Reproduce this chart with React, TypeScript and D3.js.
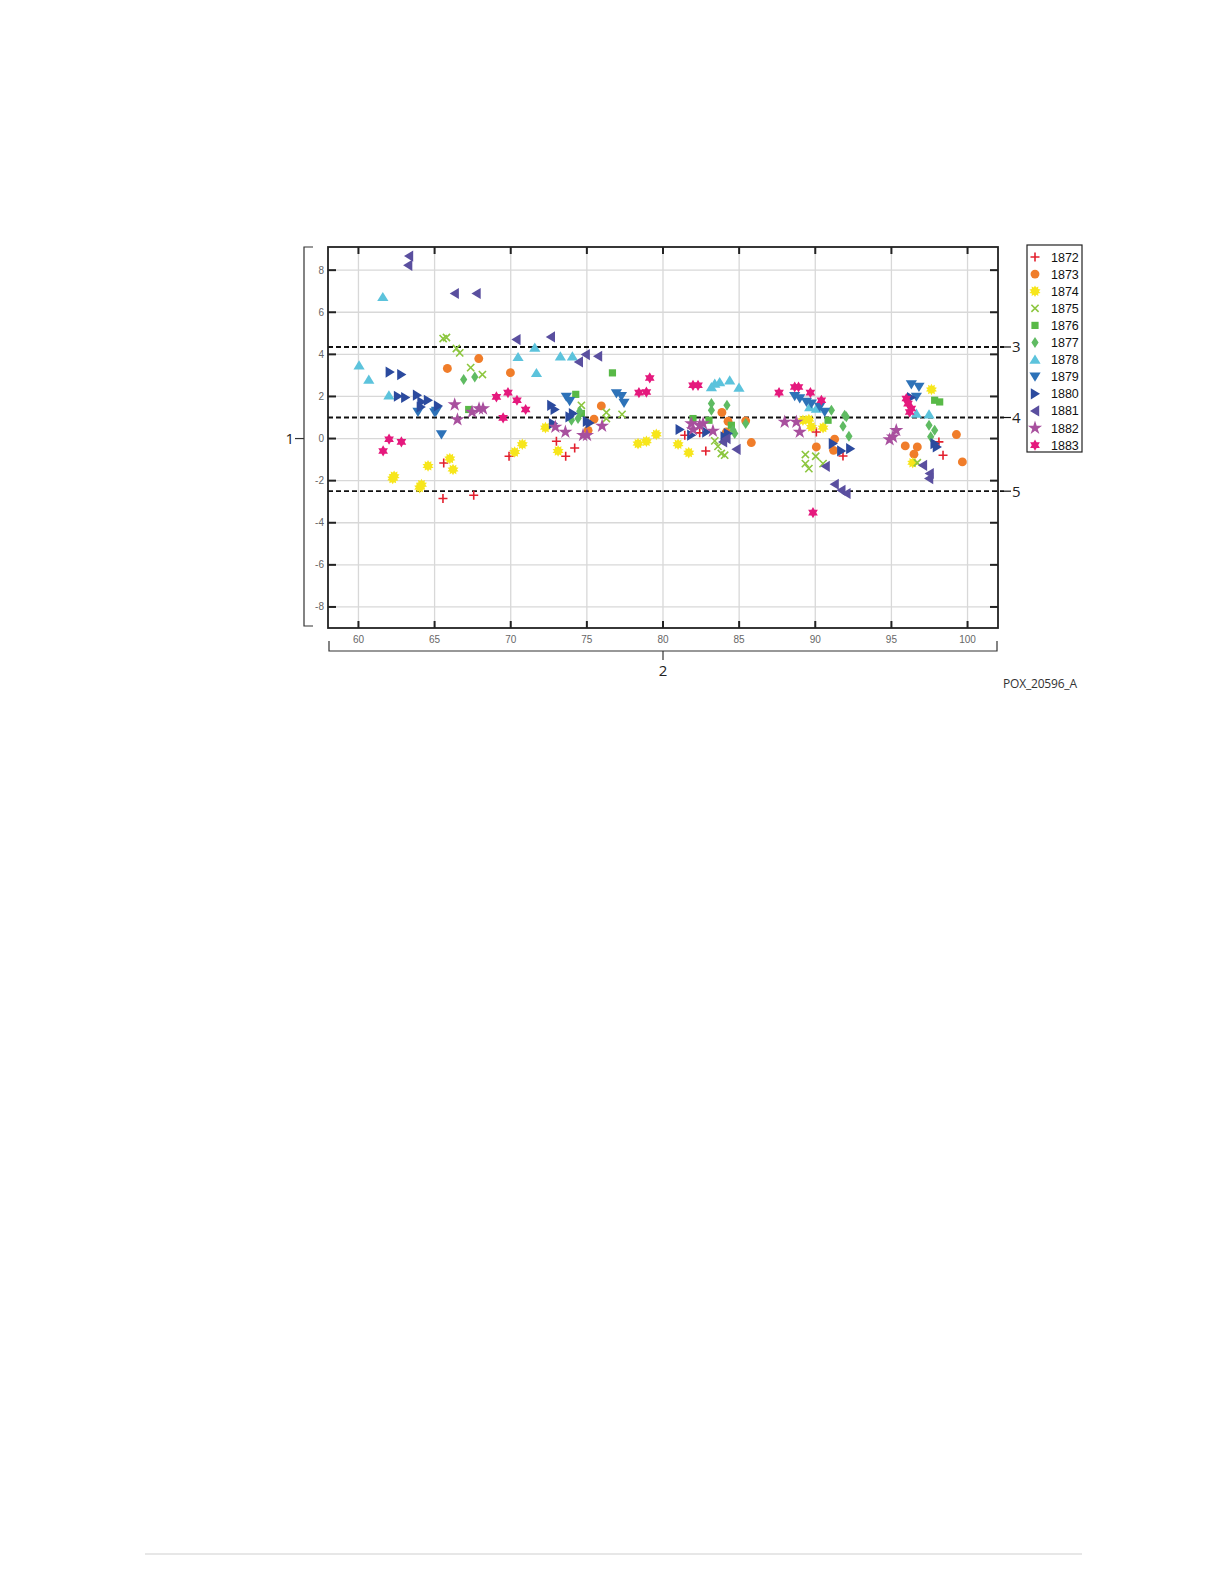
import React, { useEffect, useRef } from 'react';
import * as d3 from 'd3';

// [x, y] values, one list per year
const s1872 = [[65.55,-2.85],[67.57,-2.69],[65.6,-1.16],[69.89,-0.84],[73.0,-0.13],[73.61,-0.84],[74.2,-0.45],[81.43,0.16],[82.41,0.27],[82.81,-0.59],[90.07,0.31],[91.82,-0.83],[98.12,-0.16],[98.39,-0.79]];
const s1873 = [[65.84,3.33],[67.9,3.8],[69.98,3.13],[75.95,1.55],[75.47,0.92],[75.08,0.39],[83.87,1.24],[84.27,0.82],[84.16,0.31],[85.43,0.84],[85.8,-0.19],[90.07,-0.4],[91.27,-0.03],[91.2,-0.56],[95.91,-0.35],[96.7,-0.4],[96.48,-0.74],[99.27,0.19],[99.66,-1.11]];
const s1874 = [[62.34,-1.79],[62.25,-1.9],[64.02,-2.33],[64.14,-2.19],[64.57,-1.3],[66.0,-0.95],[66.21,-1.47],[70.26,-0.64],[70.76,-0.27],[72.28,0.52],[73.11,-0.59],[78.36,-0.24],[78.91,-0.13],[79.56,0.2],[80.99,-0.27],[81.69,-0.67],[89.19,0.87],[89.58,0.9],[89.75,0.55],[90.51,0.52],[97.63,2.33],[96.4,-1.15]];
const s1875 = [[65.56,4.75],[65.78,4.8],[66.43,4.28],[66.65,4.07],[67.37,3.37],[68.14,3.04],[74.64,1.58],[76.28,1.24],[76.28,0.95],[77.31,1.15],[83.4,-0.11],[83.61,-0.37],[83.83,-0.71],[84.05,-0.79],[89.35,-0.76],[89.35,-1.19],[90.03,-0.84],[89.58,-1.43],[90.51,-1.19],[96.7,-1.15]];
const s1876 = [[67.24,1.38],[76.68,3.12],[74.27,2.1],[74.64,1.19],[81.97,0.95],[83.02,0.87],[84.49,0.63],[90.84,0.87],[97.84,1.82],[98.17,1.74]];
const s1877 = [[66.91,2.8],[67.64,2.93],[74.53,1.3],[73.99,0.87],[74.42,0.95],[83.18,1.66],[83.18,1.34],[84.2,1.58],[84.6,0.39],[84.71,0.24],[85.43,0.71],[91.06,1.34],[92.04,1.03],[91.82,0.58],[92.21,0.11],[91.93,1.11],[97.47,0.63],[97.84,0.39],[97.58,0.08]];
const s1878 = [[61.6,6.73],[60.04,3.48],[60.68,2.8],[62.0,2.06],[70.48,3.88],[71.58,4.32],[71.69,3.12],[73.26,3.91],[74.05,3.91],[83.18,2.45],[83.4,2.61],[83.72,2.69],[84.38,2.77],[84.99,2.42],[89.63,1.5],[90.07,1.42],[96.64,1.19],[97.47,1.15]];
const s1879 = [[63.91,1.26],[65.01,1.24],[65.12,1.31],[65.45,0.19],[73.65,1.98],[73.87,1.77],[76.94,2.14],[77.27,2.01],[77.44,1.69],[88.65,2.01],[88.98,1.9],[89.42,1.74],[89.75,1.66],[90.29,1.5],[90.62,1.26],[96.31,2.57],[96.81,2.45],[96.64,1.98]];
const s1880 = [[62.06,3.16],[62.82,3.04],[62.6,2.01],[63.08,1.95],[63.85,2.06],[64.14,1.74],[64.57,1.82],[65.23,1.55],[64.1,1.5],[72.67,1.58],[72.89,1.38],[73.87,1.03],[74.09,1.19],[75.01,0.82],[75.19,0.74],[72.78,0.71],[81.1,0.43],[81.86,0.16],[82.85,0.31],[84.05,0.08],[84.27,0.24],[91.16,-0.24],[91.71,-0.59],[92.3,-0.48],[97.84,-0.24],[97.99,-0.4],[96.3,1.95]];
const s1881 = [[63.32,8.67],[63.26,8.23],[66.32,6.89],[67.75,6.89],[70.37,4.7],[72.63,4.83],[74.92,3.99],[75.73,3.91],[74.47,3.64],[83.94,-0.16],[84.16,0],[84.82,-0.51],[90.68,-1.32],[91.27,-2.17],[91.71,-2.46],[92.04,-2.61],[97.07,-1.27],[97.51,-1.66],[97.47,-1.9]];
const s1882 = [[66.32,1.61],[66.5,0.9],[67.46,1.26],[67.92,1.42],[68.18,1.42],[72.93,0.55],[73.59,0.31],[74.75,0.16],[75.01,0.16],[76.0,0.6],[81.86,0.71],[81.97,0.43],[82.41,0.63],[82.63,0.71],[83.28,0.36],[87.99,0.79],[88.76,0.79],[88.98,0.31],[95.32,0.39],[95.1,0.08],[94.88,-0.05]];
const s1883 = [[62.01,-0.03],[61.62,-0.59],[62.82,-0.16],[69.06,1.98],[69.82,2.18],[69.5,0.98],[70.41,1.82],[70.98,1.38],[78.42,2.18],[78.91,2.21],[79.13,2.88],[81.97,2.53],[82.3,2.53],[87.62,2.18],[88.65,2.45],[88.9,2.45],[89.68,2.18],[90.4,1.82],[89.85,-3.52],[95.98,1.9],[96.09,1.66],[96.31,1.43],[96.2,1.26]];

const years = ['1872','1873','1874','1875','1876','1877','1878','1879','1880','1881','1882','1883'];
const seriesData = [s1872, s1873, s1874, s1875, s1876, s1877, s1878, s1879, s1880, s1881, s1882, s1883];
const shapes = ['plus','circle','burst','x','square','diamond','up','down','right','left','star','hexagram'];
const colors = ['#e3202e','#f07d2a','#f7e61b','#8cc63e','#58b947','#5fbb62','#5cc3dc','#2d72b8','#2b4a9e','#5a4f9f','#a8509e','#e5197d'];

const xTicks = [60, 65, 70, 75, 80, 85, 90, 95, 100];
const yTicks = [-8, -6, -4, -2, 0, 2, 4, 6, 8];
const refLines = [4.35, 1.0, -2.5];
const refLabels = ['3', '4', '5'];

const markerPath = (shape: string): string => {
  switch (shape) {
    case 'circle': return d3.symbol(d3.symbolCircle, 62)() as string;
    case 'square': return 'M-3.6,-3.6H3.6V3.6H-3.6Z';
    case 'diamond': return 'M0,-5.5L3.6,0L0,5.5L-3.6,0Z';
    case 'up': return 'M0,-5L5.6,4.2L-5.6,4.2Z';
    case 'down': return 'M0,5L5.6,-4.2L-5.6,-4.2Z';
    case 'right': return 'M5,0L-4.2,-5.6L-4.2,5.6Z';
    case 'left': return 'M-5,0L4.2,-5.6L4.2,5.6Z';
    case 'star': return d3.symbol(d3.symbolStar, 62)() as string;
    case 'hexagram': {
      const r = 5.6;
      const tri = (off: number) => d3.range(3).map(i => {
        const a = off + i * 2 * Math.PI / 3;
        return `${(r * Math.sin(a)).toFixed(2)},${(-r * Math.cos(a)).toFixed(2)}`;
      });
      return `M${tri(0).join('L')}ZM${tri(Math.PI).join('L')}Z`;
    }
    case 'burst': {
      const pts = d3.range(20).map(i => {
        const a = i * Math.PI / 10;
        const rr = i % 2 === 0 ? 5.8 : 3.8;
        return `${(rr * Math.sin(a)).toFixed(2)},${(-rr * Math.cos(a)).toFixed(2)}`;
      });
      return `M${pts.join('L')}Z`;
    }
    case 'plus': return 'M-4.5,0H4.5M0,-4.5V4.5';
    case 'x': return 'M-3.6,-3.6L3.6,3.6M-3.6,3.6L3.6,-3.6';
    default: return '';
  }
};

const isStroke = (shape: string) => shape === 'plus' || shape === 'x';

const App: React.FC = () => {
  const svgRef = useRef<SVGSVGElement>(null);

  useEffect(() => {
    if (!svgRef.current) return;
    const svg = d3.select(svgRef.current);
    svg.selectAll('*').remove();

    const left = 328, right = 998, top = 247, bottom = 628;
    const x = d3.scaleLinear().domain([58, 102]).range([left, right]);
    const y = d3.scaleLinear().domain([-9, 9.1]).range([bottom, top]);

    svg.append('rect').attr('width', 1224).attr('height', 1584).attr('fill', '#fff');

    // grid
    const grid = svg.append('g').attr('stroke', '#d8d8d8').attr('stroke-width', 1.3);
    grid.selectAll('line.v').data(xTicks).join('line')
      .attr('x1', d => x(d)).attr('x2', d => x(d)).attr('y1', top).attr('y2', bottom);
    grid.selectAll('line.h').data(yTicks).join('line')
      .attr('x1', left).attr('x2', right).attr('y1', d => y(d)).attr('y2', d => y(d));

    // frame ticks
    const ticks = svg.append('g').attr('stroke', '#222').attr('stroke-width', 2);
    xTicks.forEach(t => {
      ticks.append('line').attr('x1', x(t)).attr('x2', x(t)).attr('y1', bottom).attr('y2', bottom - 7);
      ticks.append('line').attr('x1', x(t)).attr('x2', x(t)).attr('y1', top).attr('y2', top + 7);
    });
    yTicks.forEach(t => {
      ticks.append('line').attr('x1', left).attr('x2', left + 8).attr('y1', y(t)).attr('y2', y(t));
      ticks.append('line').attr('x1', right).attr('x2', right - 8).attr('y1', y(t)).attr('y2', y(t));
    });

    // tick labels
    svg.append('g').selectAll('text').data(xTicks).join('text')
      .attr('x', d => x(d)).attr('y', 643).attr('text-anchor', 'middle')
      .attr('font-family', 'Liberation Sans, Arial, sans-serif').attr('font-size', 10).attr('fill', '#666')
      .text(d => d);
    svg.append('g').selectAll('text').data(yTicks).join('text')
      .attr('x', 324).attr('y', d => y(d) + 3.5).attr('text-anchor', 'end')
      .attr('font-family', 'Liberation Sans, Arial, sans-serif').attr('font-size', 10).attr('fill', '#666')
      .text(d => d);

    // dashed reference lines with callouts
    refLines.forEach((v, i) => {
      svg.append('line').attr('x1', left).attr('x2', 1004).attr('y1', y(v)).attr('y2', y(v))
        .attr('stroke', '#111').attr('stroke-width', 1.8).attr('stroke-dasharray', '5,3');
      svg.append('line').attr('x1', 1004).attr('x2', 1011).attr('y1', y(v)).attr('y2', y(v))
        .attr('stroke', '#111').attr('stroke-width', 1.2);
      svg.append('text').attr('x', 1012).attr('y', y(v) + 5.5)
        .attr('font-family', 'Open Sans, sans-serif').attr('font-size', 15).attr('fill', '#222')
        .text(refLabels[i]);
    });

    // markers
    seriesData.forEach((pts, i) => {
      const shape = shapes[i];
      const path = markerPath(shape);
      svg.append('g').selectAll('path').data(pts).join('path')
        .attr('transform', d => `translate(${x(d[0])},${y(d[1])})`)
        .attr('d', path)
        .attr('fill', isStroke(shape) ? 'none' : colors[i])
        .attr('stroke', isStroke(shape) ? colors[i] : 'none')
        .attr('stroke-width', 1.6);
    });

    // frame
    svg.append('rect').attr('x', left).attr('y', top).attr('width', right - left).attr('height', bottom - top)
      .attr('fill', 'none').attr('stroke', '#222').attr('stroke-width', 1.8);

    // left bracket "1"
    const br = svg.append('g').attr('fill', 'none').attr('stroke', '#333').attr('stroke-width', 1.2);
    br.append('path').attr('d', `M313,${top}H304V626H313`);
    br.append('line').attr('x1', 295).attr('x2', 304).attr('y1', y(0)).attr('y2', y(0));
    svg.append('text').attr('x', 294).attr('y', y(0) + 5.5).attr('text-anchor', 'end')
      .attr('font-family', 'Open Sans, sans-serif').attr('font-size', 15).attr('fill', '#222').text('1');

    // bottom bracket "2"
    br.append('path').attr('d', `M329,641V651H997V641`);
    br.append('line').attr('x1', x(80)).attr('x2', x(80)).attr('y1', 651).attr('y2', 660);
    svg.append('text').attr('x', x(80)).attr('y', 676).attr('text-anchor', 'middle')
      .attr('font-family', 'Open Sans, sans-serif').attr('font-size', 15).attr('fill', '#222').text('2');

    // legend
    const lg = svg.append('g');
    lg.append('rect').attr('x', 1027).attr('y', 245).attr('width', 55).attr('height', 207)
      .attr('fill', '#fff').attr('stroke', '#222').attr('stroke-width', 1.2);
    years.forEach((yr, i) => {
      const cy = 257 + i * 17.1;
      const shape = shapes[i];
      lg.append('path').attr('transform', `translate(1035,${cy})`).attr('d', markerPath(shape))
        .attr('fill', isStroke(shape) ? 'none' : colors[i])
        .attr('stroke', isStroke(shape) ? colors[i] : 'none').attr('stroke-width', 1.6);
      lg.append('text').attr('x', 1051).attr('y', cy + 4.5)
        .attr('font-family', 'Liberation Sans, Arial, sans-serif').attr('font-size', 12.5).attr('fill', '#111')
        .text(yr);
    });

    svg.append('text').attr('x', 1003).attr('y', 688).attr('textLength', 74)
      .attr('font-family', 'Open Sans, sans-serif').attr('font-size', 12).attr('fill', '#333').text('POX_20596_A');

    svg.append('line').attr('x1', 145).attr('x2', 1082).attr('y1', 1554).attr('y2', 1554)
      .attr('stroke', '#cfcfcf').attr('stroke-width', 1);
  }, []);

  return <svg ref={svgRef} width={1224} height={1584} style={{ position: 'absolute', left: 0, top: 0 }}></svg>;
};

export default App;
